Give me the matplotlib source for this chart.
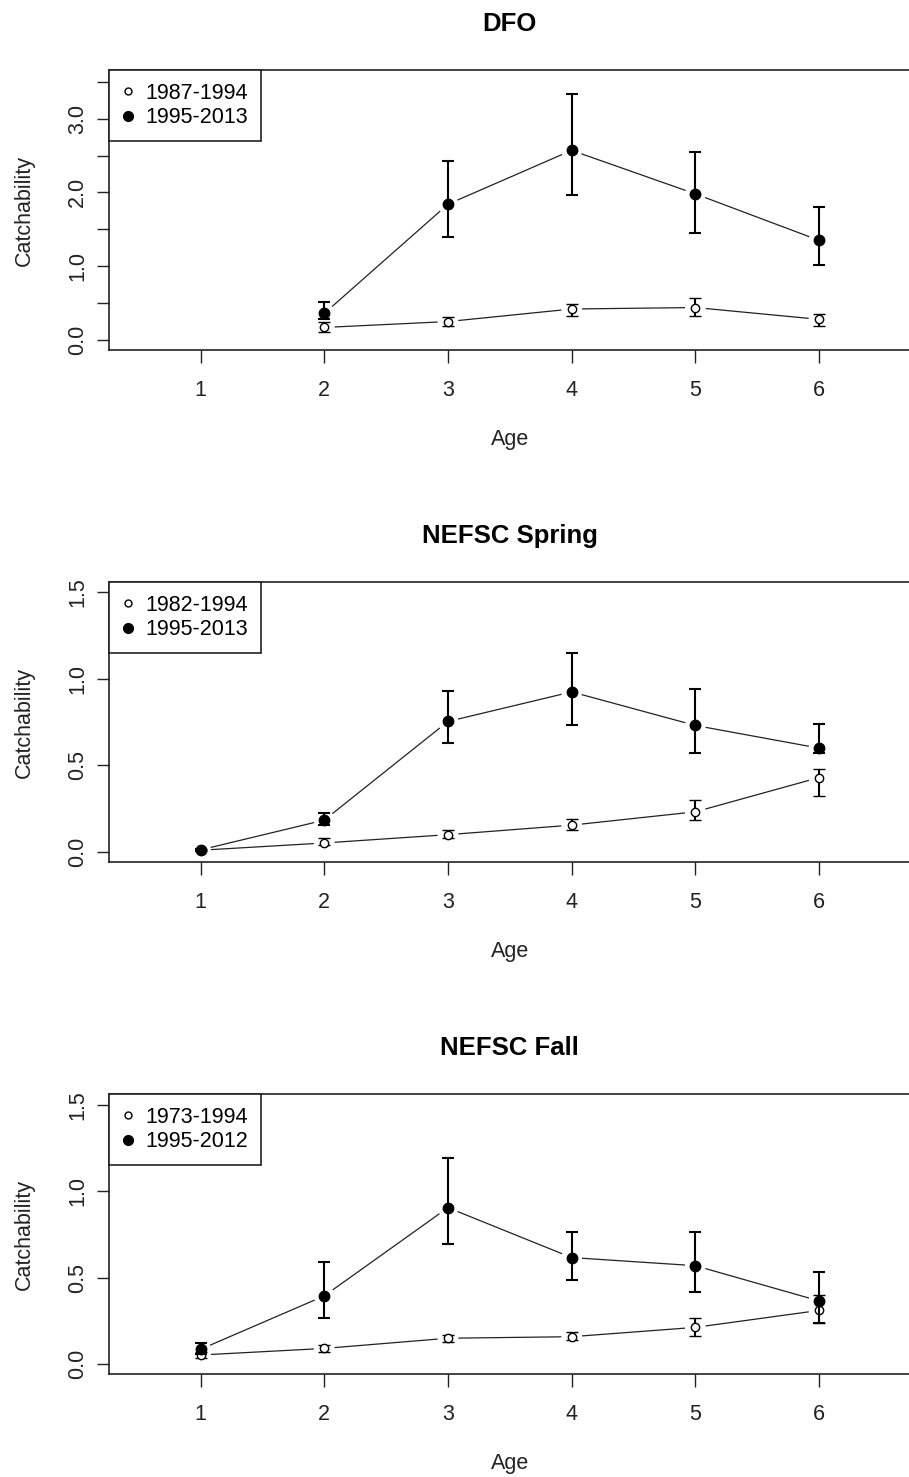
import numpy as np
import matplotlib
matplotlib.use("Agg")
import matplotlib.pyplot as plt
from matplotlib.lines import Line2D

plt.rcParams['font.family'] = ['Liberation Sans', 'DejaVu Sans']

# ---------------- data ----------------
titles = ["DFO", "NEFSC Spring", "NEFSC Fall"]
open_labels = ["1987-1994", "1982-1994", "1973-1994"]
filled_labels = ["1995-2013", "1995-2013", "1995-2012"]

ages_dfo = [2, 3, 4, 5, 6]
ages_nefsc = [1, 2, 3, 4, 5, 6]

# DFO
dfo_open = [0.17, 0.25, 0.42, 0.44, 0.28]
dfo_open_lo = [0.11, 0.19, 0.33, 0.33, 0.19]
dfo_open_hi = [0.24, 0.31, 0.49, 0.57, 0.35]
dfo_filled = [0.36, 1.84, 2.57, 1.98, 1.35]
dfo_filled_lo = [0.28, 1.39, 1.96, 1.45, 1.01]
dfo_filled_hi = [0.51, 2.42, 3.34, 2.55, 1.80]

# NEFSC Spring
spr_open = [0.010, 0.052, 0.100, 0.155, 0.232, 0.43]
spr_open_lo = [0.005, 0.039, 0.083, 0.126, 0.184, 0.324]
spr_open_hi = [0.015, 0.078, 0.126, 0.190, 0.300, 0.479]
spr_filled = [0.012, 0.184, 0.754, 0.925, 0.731, 0.600]
spr_filled_lo = [0.007, 0.155, 0.629, 0.731, 0.571, 0.572]
spr_filled_hi = [0.018, 0.223, 0.928, 1.151, 0.942, 0.741]

# NEFSC Fall
fal_open = [0.052, 0.090, 0.149, 0.158, 0.212, 0.310]
fal_open_lo = [0.033, 0.071, 0.129, 0.139, 0.162, 0.240]
fal_open_hi = [0.070, 0.110, 0.168, 0.187, 0.264, 0.398]
fal_filled = [0.085, 0.394, 0.905, 0.616, 0.569, 0.365]
fal_filled_lo = [0.055, 0.268, 0.695, 0.486, 0.419, 0.238]
fal_filled_hi = [0.120, 0.593, 1.195, 0.766, 0.766, 0.533]

y_ticks = [[0, 0.5, 1.0, 1.5, 2.0, 2.5, 3.0, 3.5],
           [0, 0.5, 1.0, 1.5],
           [0, 0.5, 1.0, 1.5]]
y_ticklabels = [["0.0", "", "1.0", "", "2.0", "", "3.0", ""],
                ["0.0", "0.5", "1.0", "1.5"],
                ["0.0", "0.5", "1.0", "1.5"]]
x_ticks = [1, 2, 3, 4, 5, 6]
ylims = [(-0.1355, 3.659), (-0.058, 1.560), (-0.058, 1.563)]

panels = [
    (ages_dfo, dfo_open, dfo_open_lo, dfo_open_hi, dfo_filled, dfo_filled_lo, dfo_filled_hi),
    (ages_nefsc, spr_open, spr_open_lo, spr_open_hi, spr_filled, spr_filled_lo, spr_filled_hi),
    (ages_nefsc, fal_open, fal_open_lo, fal_open_hi, fal_filled, fal_filled_lo, fal_filled_hi),
]

# ---------------- layout ----------------
W, H = 909, 1477
fig = plt.figure(figsize=(W / 100, H / 100), dpi=100)

FS = 15.5
TFS = 18.5
left_px, right_px = 109, 910.6
tops = [70, 582, 1094]
ph = 280


def gapped_line(ax, x, y, gap_px, **kw):
    pts = ax.transData.transform(np.column_stack([x, y]))
    inv = ax.transData.inverted()
    for i in range(len(pts) - 1):
        p0, p1 = pts[i], pts[i + 1]
        d = p1 - p0
        L = np.hypot(*d)
        if L <= 2 * gap_px:
            continue
        u = d / L
        a = inv.transform(p0 + u * gap_px)
        b = inv.transform(p1 - u * gap_px)
        ax.plot([a[0], b[0]], [a[1], b[1]], **kw)


for i, (ages, ov, olo, ohi, fv, flo, fhi) in enumerate(panels):
    top = tops[i]
    ax = fig.add_axes([left_px / W, 1 - (top + ph) / H, (right_px - left_px) / W, ph / H])
    ax.set_xlim(0.26, 6.74)
    ax.set_ylim(*ylims[i])
    for s in ax.spines.values():
        s.set_linewidth(1.2)
        s.set_color('#222222')

    ov = np.array(ov); fv = np.array(fv)
    oerr = [ov - np.array(olo), np.array(ohi) - ov]
    ferr = [fv - np.array(flo), np.array(fhi) - fv]

    gapped_line(ax, ages, ov, 11, color='#222222', lw=0.9)
    gapped_line(ax, ages, fv, 11, color='#222222', lw=0.9)

    ax.errorbar(ages, ov, yerr=oerr, fmt='o', ms=6, mfc='white', mec='black', mew=1.0,
                ecolor='black', elinewidth=1.5, capsize=4.3, capthick=1.5, zorder=3)
    ax.errorbar(ages, fv, yerr=ferr, fmt='o', ms=7.5, mfc='black', mec='black',
                ecolor='black', elinewidth=1.5, capsize=4.3, capthick=1.5, zorder=4)

    ax.set_xticks(x_ticks)
    ax.set_xticklabels([str(t) for t in x_ticks])
    ax.set_yticks(y_ticks[i])
    ax.set_yticklabels(y_ticklabels[i])
    ax.tick_params(axis='both', direction='out', length=9, width=1.0, labelsize=FS,
                   colors='#222222')
    ax.tick_params(axis='x', pad=12.6)
    ax.tick_params(axis='y', pad=6, labelrotation=90)
    for lab in ax.get_yticklabels():
        lab.set_va('center')

    ax.set_title(titles[i], fontsize=TFS, fontweight='bold', y=1.165, va='center', pad=0)
    ax.set_xlabel("Age", fontsize=FS, color='#222222')
    ax.xaxis.set_label_coords(0.5, -0.321)
    ax.xaxis.label.set_va('center')
    ax.set_ylabel("Catchability", fontsize=FS, color='#222222')
    ax.yaxis.set_label_coords(-0.106, 0.5)
    ax.yaxis.label.set_va('center')

    handles = [Line2D([], [], ls='none', marker='o', ms=5, mfc='white', mec='black', mew=1.0),
               Line2D([], [], ls='none', marker='o', ms=7, mfc='black', mec='black')]
    leg = ax.legend(handles, [open_labels[i], filled_labels[i]], loc='upper left',
                    borderaxespad=0, fontsize=FS, frameon=True, fancybox=False,
                    edgecolor='#222222', framealpha=1, handlelength=0.6,
                    handletextpad=0.5, labelspacing=0.15, borderpad=0.6)
    leg.get_frame().set_linewidth(1.2)

fig.savefig("out.png", dpi=100)
